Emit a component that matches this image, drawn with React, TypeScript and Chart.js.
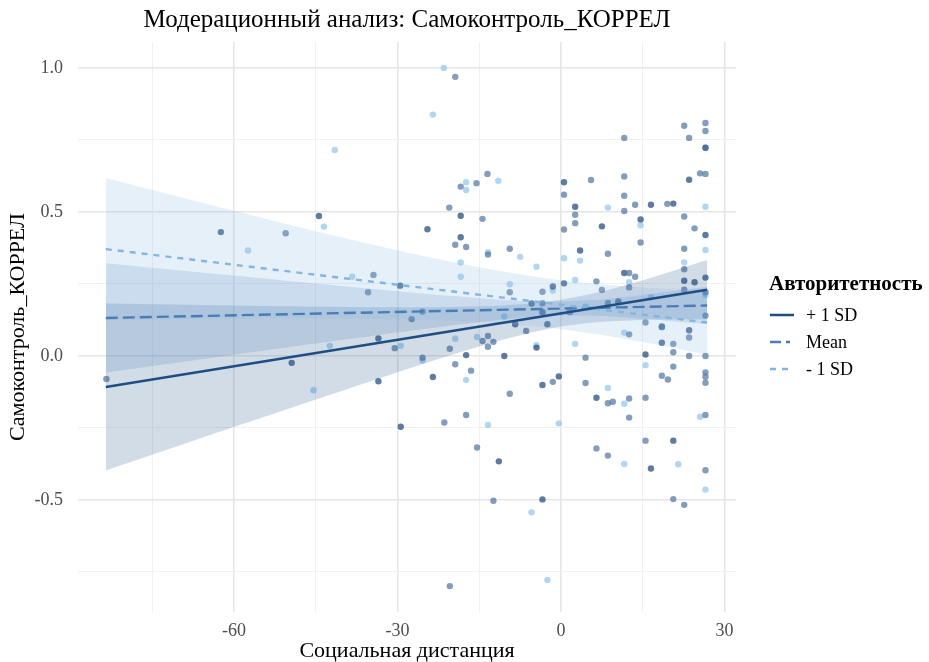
import React, { useEffect, useRef } from "react";
import { Chart, registerables } from "chart.js";

Chart.register(...registerables);

const chartTitle = "Модерационный анализ: Самоконтроль_КОРРЕЛ";
const xAxisTitle = "Социальная дистанция";
const yAxisTitle = "Самоконтроль_КОРРЕЛ";
const legendTitle = "Авторитетность";
const legendLabels = ["+ 1 SD", "Mean", "- 1 SD"];

const xTicks = [-75, -60, -45, -30, -15, 0, 15, 30];
const yTicks = [-0.75, -0.5, -0.25, 0, 0.25, 0.5, 0.75, 1.0];

// scatter points (three shades of the moderator)
const darkX = [-62.4, -44.4, -29.5, -49.4, -33.5, -33.5, -29.4, 26.5, -18.4, -24.5, -18.4, -8.4, -5.4, -3.4, -1.5, -2.5, 0.55, 0.55, 2.6, 3.5, 7.5, 10.5, 11.6, 14.6, 16.5, 20.6, 23.5, 26.5, 22.6, 24.5, 26.5, 18.5, -17.4, -10.4, -4.5, -23.5, -3.4, -0.4, -11.4, -3.4, 6.5, 15.5, 18.5, 23.5, 20.6, 16.5];
const darkY = [0.43, 0.486, 0.244, -0.024, 0.061, -0.088, -0.246, 0.723, 0.487, 0.44, 0.412, 0.11, 0.182, 0.152, 0.241, 0.11, 0.603, 0.252, 0.518, 0.366, 0.45, 0.189, 0.288, 0.474, 0.525, 0.529, 0.612, 0.42, 0.261, 0.256, 0.272, 0.102, 0.003, 0.0, 0.029, -0.073, -0.101, -0.071, -0.366, -0.498, -0.145, 0.005, 0.046, 0.089, -0.294, -0.391];

const midX = [-50.5, -34.4, -35.4, -83.4, -30.5, -19.4, 11.6, 22.6, 26.5, 26.5, 23.5, -13.5, -18.4, -15.5, -20.5, -14.4, -19.4, -17.4, -13.4, -9.4, -9.4, -27.4, -25.4, -3.4, -3.4, 0.55, 0.55, 1.6, 2.6, 2.6, 5.5, 6.5, 7.5, 8.6, 8.6, 11.6, 11.6, 11.6, 12.5, 13.6, 12.5, 13.6, 14.6, 19.5, 22.6, 25.5, 26.5, 24.5, 22.6, 22.6, 22.6, 26.5, 26.5, 15.5, -6.4, -13.4, -14.4, -12.4, -13.4, -20.4, -25.4, -19.4, -16.5, -21.4, -17.4, -9.4, -1.5, -15.4, -12.4, -20.4, 4.5, 4.5, 8.6, 9.5, 12.5, 12.5, 12.5, 15.5, 18.5, 18.5, 19.6, 20.6, 20.6, 20.6, 23.5, 23.5, 26.5, 26.5, 26.5, 26.5, 26.5, 15.5, 6.5, 8.6, 26.5, 20.6, 22.6];
const midY = [0.426, 0.281, 0.221, -0.08, 0.027, 0.969, 0.757, 0.799, 0.809, 0.781, 0.757, 0.632, 0.588, 0.6, 0.515, 0.476, 0.386, 0.378, 0.352, 0.372, 0.221, 0.128, 0.154, 0.223, 0.183, 0.56, 0.439, 0.152, 0.49, 0.461, 0.611, 0.259, 0.229, 0.355, 0.184, 0.623, 0.556, 0.503, 0.288, 0.275, 0.238, 0.525, 0.394, 0.528, 0.484, 0.634, 0.632, 0.443, 0.372, 0.301, 0.23, 0.221, 0.14, 0.116, 0.087, 0.069, 0.052, 0.049, 0.032, 0.025, -0.006, -0.029, -0.051, -0.231, -0.205, -0.131, -0.09, -0.318, -0.503, -0.799, -0.006, -0.094, -0.164, -0.159, -0.148, -0.214, 0.075, -0.145, 0.1, -0.069, -0.082, 0.042, 0.013, -0.037, 0.064, 0.0, 0.0, -0.057, -0.072, -0.093, -0.205, -0.294, -0.321, -0.346, -0.397, -0.497, -0.517];

const lightX = [-41.5, -57.4, -43.5, -38.3, -45.4, -42.4, -29.4, -21.5, -23.5, -11.5, -17.4, -17.4, -18.4, -18.4, -13.4, -7.5, -4.5, -9.4, -10.4, -1.5, 0.55, 3.5, 2.6, 4.5, 8.6, 14.6, 26.5, 26.5, 22.6, 26.5, 16.5, 12.5, -19.4, -15.4, -25.4, -4.5, 2.6, -17.4, -13.4, -0.4, -5.4, -2.5, 8.6, 11.6, 11.6, 15.5, 25.5, 11.6, 21.5, 26.5, 26.5];
const lightY = [0.715, 0.366, 0.449, 0.275, -0.119, 0.035, 0.035, 1.0, 0.838, 0.608, 0.603, 0.576, 0.325, 0.275, 0.36, 0.344, 0.31, 0.249, 0.137, 0.227, 0.339, 0.331, 0.264, 0.171, 0.515, 0.454, 0.518, 0.368, 0.325, 0.212, 0.204, 0.256, 0.06, 0.066, -0.016, 0.037, 0.042, -0.083, -0.24, -0.234, -0.543, -0.778, -0.111, -0.166, 0.081, -0.032, -0.211, -0.375, -0.376, -0.464, 0.723];

// regression lines (end points)
const lineX = [-83.5, 26.8];
const plusLineY = [-0.108, 0.23];
const meanLineY = [0.132, 0.175];
const minusLineY = [0.371, 0.116];

// confidence bands
const bandX = [-83.5, -60, -40, -20, -5, 5, 15, 26.8];
const plusLow = [-0.398, -0.247, -0.12, 0.004, 0.083, 0.114, 0.125, 0.127];
const plusHigh = [0.182, 0.175, 0.17, 0.17, 0.183, 0.213, 0.263, 0.333];
const meanLow = [-0.058, 0.004, 0.056, 0.106, 0.136, 0.14, 0.129, 0.11];
const meanHigh = [0.322, 0.279, 0.242, 0.208, 0.189, 0.193, 0.212, 0.24];
const minusLow = [0.124, 0.13, 0.13, 0.122, 0.103, 0.08, 0.048, 0.003];
const minusHigh = [0.618, 0.504, 0.41, 0.326, 0.276, 0.252, 0.238, 0.229];

const PLUS_COLOR = "#1f4e85";
const MEAN_COLOR = "#4a7db3";
const MINUS_COLOR = "#82b5e0";
const FONT = "'Liberation Serif', 'Times New Roman', serif";

const pts = (xs: number[], ys: number[]) => xs.map((x, i) => ({ x, y: ys[i] }));

const overlayPlugin = {
  id: "overlay",
  afterDraw(chart: any) {
    const ctx = chart.ctx;
    const area = chart.chartArea;
    ctx.save();
    // title
    ctx.fillStyle = "#000";
    ctx.font = `25px ${FONT}`;
    ctx.textAlign = "center";
    ctx.textBaseline = "middle";
    ctx.fillText(chartTitle, (area.left + area.right) / 2, 20);
    // legend
    ctx.textAlign = "left";
    ctx.font = `bold 21px ${FONT}`;
    ctx.fillText(legendTitle, 769, 285);
    const styles = [
      { c: PLUS_COLOR, d: [] as number[] },
      { c: MEAN_COLOR, d: [11, 5, 4, 5] },
      { c: MINUS_COLOR, d: [6, 6] },
    ];
    const ys = [315, 342, 369];
    ctx.font = `18px ${FONT}`;
    legendLabels.forEach((lab, i) => {
      ctx.beginPath();
      ctx.setLineDash(styles[i].d);
      ctx.strokeStyle = styles[i].c;
      ctx.lineWidth = 2.5;
      ctx.moveTo(770, ys[i]);
      ctx.lineTo(794, ys[i]);
      ctx.stroke();
      ctx.setLineDash([]);
      ctx.fillStyle = "#000";
      ctx.fillText(lab, 806, ys[i] + 1);
    });
    ctx.restore();
  },
};

export default function App() {
  const ref = useRef<HTMLCanvasElement>(null);
  useEffect(() => {
    if (!ref.current) return;
    const band = (xs: number[], ys: number[], color: string, fill: any, order: number) => ({
      type: "line",
      data: pts(xs, ys),
      borderWidth: 0,
      borderColor: "rgba(0,0,0,0)",
      pointRadius: 0,
      showLine: true,
      tension: 0.35,
      fill,
      backgroundColor: color,
      order,
    });
    const line = (ys: number[], color: string, dash: number[], order: number) => ({
      type: "line",
      data: pts(lineX, ys),
      borderColor: color,
      borderWidth: 2.4,
      borderDash: dash,
      pointRadius: 0,
      showLine: true,
      fill: false,
      order,
    });
    const scatter = (xs: number[], ys: number[], color: string) => ({
      type: "scatter",
      data: pts(xs, ys),
      backgroundColor: color,
      borderWidth: 0,
      pointRadius: 3.2,
      order: 20,
    });
    const chart = new Chart(ref.current, {
      type: "scatter",
      data: {
        datasets: [
          scatter(midX, midY, "rgba(78,115,160,0.7)") as any,
          scatter(darkX, darkY, "rgba(40,80,128,0.75)") as any,
          scatter(lightX, lightY, "rgba(150,200,240,0.75)") as any,
          band(bandX, plusHigh, "rgba(31,78,133,0.2)", "+1", 10),
          band(bandX, plusLow, "rgba(0,0,0,0)", false, 10),
          band(bandX, meanHigh, "rgba(74,125,179,0.2)", "+1", 9),
          band(bandX, meanLow, "rgba(0,0,0,0)", false, 9),
          band(bandX, minusHigh, "rgba(130,181,224,0.2)", "+1", 8),
          band(bandX, minusLow, "rgba(0,0,0,0)", false, 8),
          line(minusLineY, MINUS_COLOR, [6, 6], 1),
          line(meanLineY, MEAN_COLOR, [12, 5], 1),
          line(plusLineY, PLUS_COLOR, [], 0),
        ],
      },
      options: {
        animation: false,
        responsive: false,
        maintainAspectRatio: false,
        layout: { padding: { top: 42, right: 193, left: 0, bottom: 0 } },
        plugins: {
          legend: { display: false },
          tooltip: { enabled: false },
          title: { display: false },
        },
        scales: {
          x: {
            type: "linear",
            min: -88.6,
            max: 32.1,
            afterBuildTicks: (s: any) => {
              s.ticks = xTicks.map((v) => ({ value: v }));
            },
            afterFit: (s: any) => {
              s.height = 50;
            },
            grid: {
              drawTicks: false,
              color: (c: any) => (c.tick && c.tick.value % 30 === 0 ? "#e6e6e6" : "#f1f1f1"),
              lineWidth: (c: any) => (c.tick && c.tick.value % 30 === 0 ? 1.6 : 1),
            },
            border: { display: false },
            ticks: {
              padding: 8,
              color: "#4d4d4d",
              font: { family: FONT, size: 18 },
              callback: (v: any) => (Number(v) % 30 === 0 ? String(v) : ""),
            },
            title: {
              display: true,
              text: xAxisTitle,
              color: "#000",
              font: { family: FONT, size: 22 },
              padding: { top: 0, bottom: -2 },
            },
          },
          y: {
            type: "linear",
            min: -0.889,
            max: 1.09,
            afterBuildTicks: (s: any) => {
              s.ticks = yTicks.map((v) => ({ value: v }));
            },
            afterFit: (s: any) => {
              s.width = 78;
            },
            grid: {
              drawTicks: false,
              color: (c: any) => (c.tick && Math.abs((c.tick.value * 2) % 1) < 1e-6 ? "#e6e6e6" : "#f1f1f1"),
              lineWidth: (c: any) => (c.tick && Math.abs((c.tick.value * 2) % 1) < 1e-6 ? 1.6 : 1),
            },
            border: { display: false },
            ticks: {
              padding: 15,
              color: "#4d4d4d",
              font: { family: FONT, size: 18 },
              callback: (v: any) => (Math.abs((Number(v) * 2) % 1) < 1e-6 ? Number(v).toFixed(1) : ""),
            },
            title: {
              display: true,
              text: yAxisTitle,
              color: "#000",
              font: { family: FONT, size: 22 },
              padding: { top: 5, bottom: 0 },
            },
          },
        },
      } as any,
      plugins: [overlayPlugin],
    });
    return () => chart.destroy();
  }, []);
  return (
    <div style={{ position: "fixed", left: 0, top: 0, width: 929, height: 662, background: "#fff" }}>
      <canvas ref={ref} width={929} height={662} style={{ width: 929, height: 662 }} />
    </div>
  );
}
